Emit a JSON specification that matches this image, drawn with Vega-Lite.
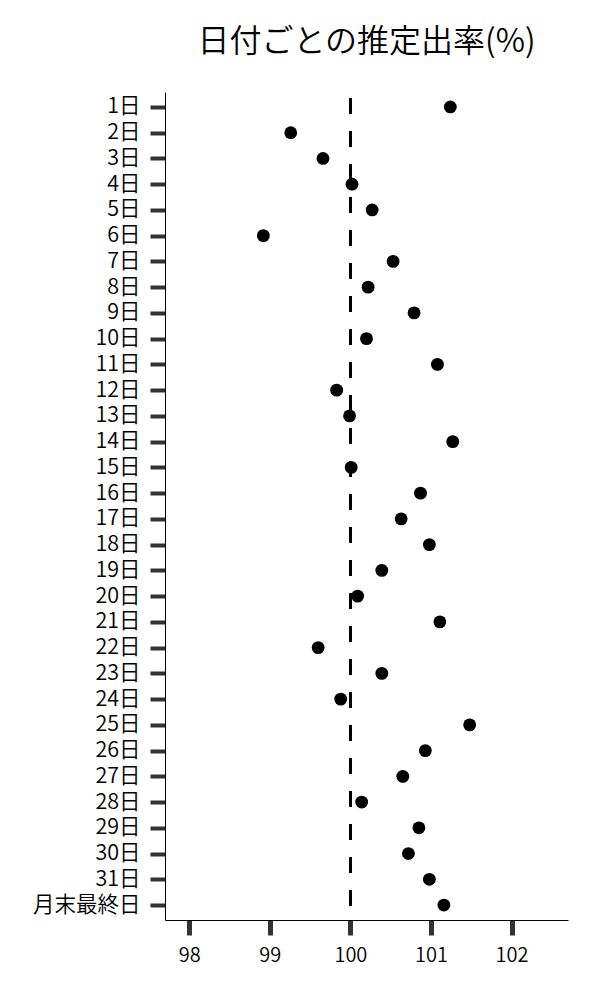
{
  "$schema": "https://vega.github.io/schema/vega-lite/v6.json",
  "autosize": {"type": "none"},
  "width": 403,
  "height": 828,
  "padding": {"left": 165, "top": 92, "right": 32, "bottom": 80},
  "background": "white",
  "config": {
    "view": {"stroke": null},
    "font": "Noto Sans CJK JP"
  },
  "title": {
    "text": "日付ごとの推定出率(%)",
    "font": "Noto Sans CJK JP",
    "fontSize": 32,
    "fontWeight": 350,
    "color": "#000000",
    "anchor": "middle",
    "offset": 32
  },
  "data": {
    "values": [
      {"day": "1日", "rate": 101.24},
      {"day": "2日", "rate": 99.26},
      {"day": "3日", "rate": 99.66},
      {"day": "4日", "rate": 100.02},
      {"day": "5日", "rate": 100.27},
      {"day": "6日", "rate": 98.92},
      {"day": "7日", "rate": 100.53},
      {"day": "8日", "rate": 100.22},
      {"day": "9日", "rate": 100.79},
      {"day": "10日", "rate": 100.2},
      {"day": "11日", "rate": 101.08},
      {"day": "12日", "rate": 99.83},
      {"day": "13日", "rate": 99.99},
      {"day": "14日", "rate": 101.27},
      {"day": "15日", "rate": 100.01},
      {"day": "16日", "rate": 100.87},
      {"day": "17日", "rate": 100.63},
      {"day": "18日", "rate": 100.98},
      {"day": "19日", "rate": 100.39},
      {"day": "20日", "rate": 100.09},
      {"day": "21日", "rate": 101.11},
      {"day": "22日", "rate": 99.6},
      {"day": "23日", "rate": 100.39},
      {"day": "24日", "rate": 99.88},
      {"day": "25日", "rate": 101.48},
      {"day": "26日", "rate": 100.93},
      {"day": "27日", "rate": 100.65},
      {"day": "28日", "rate": 100.14},
      {"day": "29日", "rate": 100.85},
      {"day": "30日", "rate": 100.72},
      {"day": "31日", "rate": 100.98},
      {"day": "月末最終日", "rate": 101.16}
    ]
  },
  "encoding": {
    "y": {
      "field": "day",
      "type": "nominal",
      "sort": null,
      "scale": {"type": "point", "padding": 0.58},
      "axis": {
        "title": null,
        "domainColor": "#000000",
        "domainWidth": 1,
        "tickColor": "#333333",
        "tickWidth": 4,
        "tickSize": 15,
        "labelFontSize": 21.5,
        "labelFontWeight": 350,
        "labelColor": "#000000",
        "labelPadding": 10,
        "labelFont": "Noto Sans CJK JP"
      }
    }
  },
  "layer": [
    {
      "mark": {"type": "rule", "strokeDash": [16, 17], "strokeDashOffset": -6, "strokeWidth": 2, "color": "#000000"},
      "encoding": {
        "x": {"datum": 100, "type": "quantitative"},
        "y": null
      }
    },
    {
      "mark": {"type": "point", "filled": true, "size": 165, "color": "#000000", "opacity": 1},
      "encoding": {
        "x": {
          "field": "rate",
          "type": "quantitative",
          "scale": {"domain": [97.7, 102.7], "nice": false, "zero": false},
          "axis": {
            "title": null,
            "values": [98, 99, 100, 101, 102],
            "format": "d",
            "grid": false,
            "domainColor": "#000000",
            "domainWidth": 1,
            "tickColor": "#333333",
            "tickWidth": 5,
            "tickSize": 15,
            "labelFontSize": 20,
            "labelFontWeight": 350,
            "labelColor": "#000000",
            "labelPadding": 10,
            "labelFont": "Noto Sans CJK JP"
          }
        }
      }
    }
  ]
}
